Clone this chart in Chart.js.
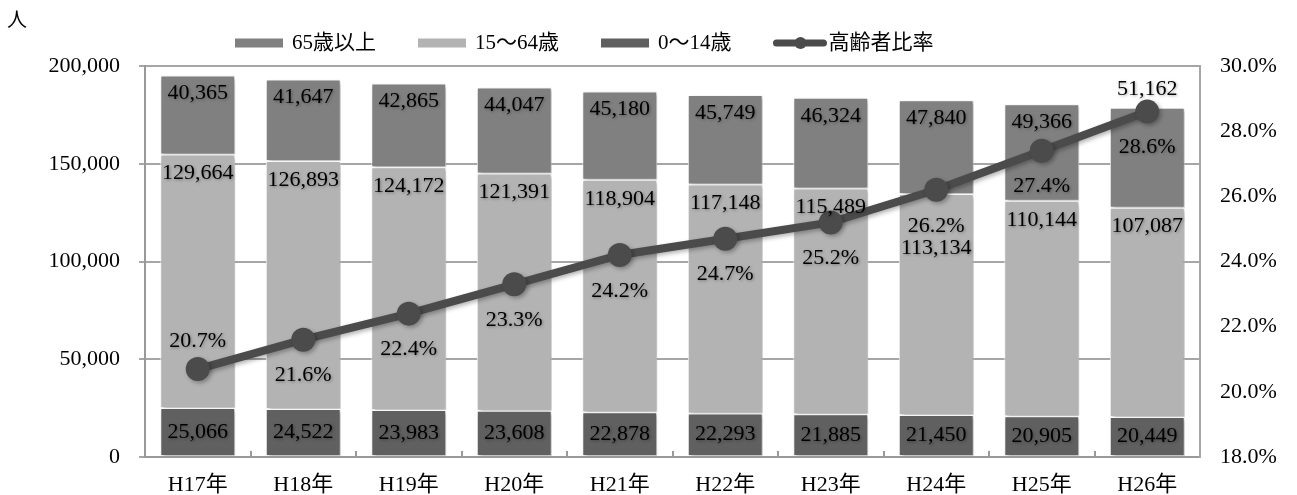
<!DOCTYPE html>
<html lang="ja">
<head>
<meta charset="utf-8">
<title>年齢3区分別人口と高齢者比率</title>
<script src="https://cdn.jsdelivr.net/npm/chart.js@4.4.1/dist/chart.umd.min.js"></script>
<style>
  html, body { margin: 0; padding: 0; background: #fff; }
  #wrap { width: 1297px; height: 495px; position: relative; }
</style>
</head>
<body>
<div id="wrap"><canvas id="popChart"></canvas></div>
<script>
// Chart data
const years = ['H17年', 'H18年', 'H19年', 'H20年', 'H21年', 'H22年', 'H23年', 'H24年', 'H25年', 'H26年'];
const age0to14 = [25066, 24522, 23983, 23608, 22878, 22293, 21885, 21450, 20905, 20449];
const age15to64 = [129664, 126893, 124172, 121391, 118904, 117148, 115489, 113134, 110144, 107087];
const age65over = [40365, 41647, 42865, 44047, 45180, 45749, 46324, 47840, 49366, 51162];
const elderRatio = [20.7, 21.6, 22.4, 23.3, 24.2, 24.7, 25.2, 26.2, 27.4, 28.6];
const leftTicks = [0, 50000, 100000, 150000, 200000];
const rightTicks = [18, 20, 22, 24, 26, 28, 30];

const FONT = "'Liberation Serif', 'Noto Sans CJK JP', serif";
const FS = 22;
const GRID = '#a6a6a6';
const AXIS = '#999999';

Chart.defaults.font.family = FONT;
Chart.defaults.font.size = FS;
Chart.defaults.color = '#000';

const fmt = v => v.toLocaleString('en-US');

// bar / line shadows
const shadowPlugin = {
    id: 'shadows',
    beforeDatasetDraw(chart) {
        const ctx = chart.ctx;
        ctx.save();
        ctx.shadowColor = 'rgba(0,0,0,0.3)';
        ctx.shadowBlur = 4;
        ctx.shadowOffsetX = 2;
        ctx.shadowOffsetY = 2;
    },
    afterDatasetDraw(chart) {
        chart.ctx.restore();
    }
};

function textWithShadow(ctx, text, x, y) {
    ctx.save();
    ctx.shadowColor = 'rgba(0,0,0,0.35)';
    ctx.shadowBlur = 3;
    ctx.shadowOffsetX = 1;
    ctx.shadowOffsetY = 1;
    ctx.fillText(text, x, y);
    ctx.restore();
}

function overlaps(a, b) {
    return a.x1 < b.x2 && a.x2 > b.x1 && a.y1 < b.y2 && a.y2 > b.y1;
}

// data labels, legend, inner ticks, unit
const decorPlugin = {
    id: 'decor',
    afterDraw(chart) {
        const ctx = chart.ctx;
        const area = chart.chartArea;
        const xScale = chart.scales.x;

        // inner tick marks between categories
        ctx.save();
        ctx.strokeStyle = AXIS;
        ctx.lineWidth = 2;
        for (let i = 1; i < years.length; i++) {
            const tx = Math.round((xScale.getPixelForValue(i - 1) + xScale.getPixelForValue(i)) / 2);
            ctx.beginPath();
            ctx.moveTo(tx, area.bottom);
            ctx.lineTo(tx, area.bottom - 6);
            ctx.stroke();
        }
        ctx.restore();

        ctx.save();
        ctx.font = FS + 'px ' + FONT;
        ctx.fillStyle = '#000';
        ctx.textAlign = 'center';
        ctx.textBaseline = 'middle';

        const m0 = chart.getDatasetMeta(0).data;
        const m1 = chart.getDatasetMeta(1).data;
        const m2 = chart.getDatasetMeta(2).data;
        const mLine = chart.getDatasetMeta(3).data;
        const halfH = 10;

        // ratio labels first
        const lineBoxes = [];
        mLine.forEach((pt, i) => {
            const text = elderRatio[i].toFixed(1) + '%';
            const y = i === 0 ? pt.y - 28 : pt.y + 36;
            const w = ctx.measureText(text).width;
            lineBoxes.push({ x1: pt.x - w / 2, x2: pt.x + w / 2, y1: y - halfH, y2: y + halfH, y: y });
            textWithShadow(ctx, text, pt.x, y);
        });

        // 0-14 centred
        m0.forEach((bar, i) => {
            textWithShadow(ctx, fmt(age0to14[i]), bar.x, (bar.y + bar.base) / 2);
        });

        // 15-64 near segment top, pushed below a ratio label when they collide
        m1.forEach((bar, i) => {
            const text = fmt(age15to64[i]);
            const w = ctx.measureText(text).width;
            let y = bar.y + 19;
            const box = { x1: bar.x - w / 2, x2: bar.x + w / 2, y1: y - halfH, y2: y + halfH };
            const hit = lineBoxes[i];
            if (overlaps(box, hit)) y = hit.y + 22;
            textWithShadow(ctx, text, bar.x, y);
        });

        // 65+ inside end, or above the bar when the line marker sits on it
        m2.forEach((bar, i) => {
            const pt = mLine[i];
            let y = bar.y + 18;
            if (pt.y > bar.y - 12 && pt.y < bar.y + 35) y = bar.y - 18;
            textWithShadow(ctx, fmt(age65over[i]), bar.x, y);
        });
        ctx.restore();

        // unit
        ctx.save();
        ctx.font = '20px ' + FONT;
        ctx.fillStyle = '#000';
        ctx.textBaseline = 'middle';
        ctx.fillText('人', 7, 22);
        ctx.restore();

        // legend
        ctx.save();
        ctx.font = '21px ' + FONT;
        ctx.textBaseline = 'middle';
        ctx.fillStyle = '#000';
        const order = [2, 1, 0, 3];
        let lx = 235;
        const ly = 43;
        order.forEach(idx => {
            const ds = chart.data.datasets[idx];
            if (ds.type === 'line') {
                ctx.strokeStyle = ds.borderColor;
                ctx.lineWidth = 7;
                ctx.lineCap = 'round';
                ctx.beginPath();
                ctx.moveTo(lx + 3, ly);
                ctx.lineTo(lx + 50, ly);
                ctx.stroke();
                ctx.fillStyle = ds.borderColor;
                ctx.beginPath();
                ctx.arc(lx + 27, ly, 6, 0, Math.PI * 2);
                ctx.fill();
                ctx.fillStyle = '#000';
                ctx.fillText(ds.label, lx + 55, ly);
                lx += 55 + ctx.measureText(ds.label).width + 42;
            } else {
                ctx.fillStyle = ds.backgroundColor;
                ctx.fillRect(lx, ly - 4.5, 48, 9);
                ctx.fillStyle = '#000';
                ctx.fillText(ds.label, lx + 57, ly);
                lx += 57 + ctx.measureText(ds.label).width + 42;
            }
        });
        ctx.restore();
    }
};

const ctx = document.getElementById('popChart').getContext('2d');

const barCommon = {
    type: 'bar',
    yAxisID: 'y',
    stack: 'pop',
    order: 1,
    borderColor: '#ffffff',
    borderWidth: 1,
    borderSkipped: false,
    barPercentage: 0.71,
    categoryPercentage: 1.0
};

const popChart = new Chart(ctx, {
    data: {
        labels: years,
        datasets: [
            Object.assign({}, barCommon, { label: '0〜14歳', data: age0to14, backgroundColor: '#606060' }),
            Object.assign({}, barCommon, { label: '15〜64歳', data: age15to64, backgroundColor: '#b3b3b3' }),
            Object.assign({}, barCommon, { label: '65歳以上', data: age65over, backgroundColor: '#808080' }),
            {
                type: 'line',
                label: '高齢者比率',
                data: elderRatio,
                yAxisID: 'y1',
                order: 0,
                borderColor: '#4b4b4b',
                backgroundColor: '#4b4b4b',
                borderWidth: 8,
                pointRadius: 12,
                pointBackgroundColor: '#4b4b4b',
                pointBorderColor: '#4b4b4b',
                pointBorderWidth: 0,
                tension: 0,
                fill: false
            }
        ]
    },
    options: {
        responsive: true,
        maintainAspectRatio: false,
        animation: false,
        layout: { padding: { top: 66, left: 0, right: 0, bottom: 0 } },
        plugins: {
            legend: { display: false },
            tooltip: { enabled: false }
        },
        scales: {
            x: {
                stacked: true,
                offset: true,
                grid: { display: true, drawOnChartArea: false, drawTicks: false, offset: true },
                border: { display: true, color: AXIS, width: 2 },
                ticks: { padding: 15, color: '#000', font: { size: FS } },
                afterFit: s => { s.height = 38; }
            },
            y: {
                stacked: true,
                position: 'left',
                min: 0,
                max: 200000,
                afterBuildTicks: s => { s.ticks = leftTicks.map(v => ({ value: v })); },
                grid: { color: GRID, lineWidth: 2, tickLength: 6, tickColor: GRID },
                border: { display: true, color: AXIS, width: 2 },
                ticks: { padding: 19, color: '#000', font: { size: FS }, callback: v => fmt(v) },
                afterFit: s => { s.width = 145; }
            },
            y1: {
                position: 'right',
                min: 18,
                max: 30,
                afterBuildTicks: s => { s.ticks = rightTicks.map(v => ({ value: v })); },
                grid: { drawOnChartArea: false, drawTicks: false },
                border: { display: true, color: GRID, width: 2 },
                ticks: { padding: 20, color: '#000', font: { size: FS }, callback: v => v.toFixed(1) + '%' },
                afterFit: s => { s.width = 97; }
            }
        }
    },
    plugins: [shadowPlugin, decorPlugin]
});
</script>
</body>
</html>
